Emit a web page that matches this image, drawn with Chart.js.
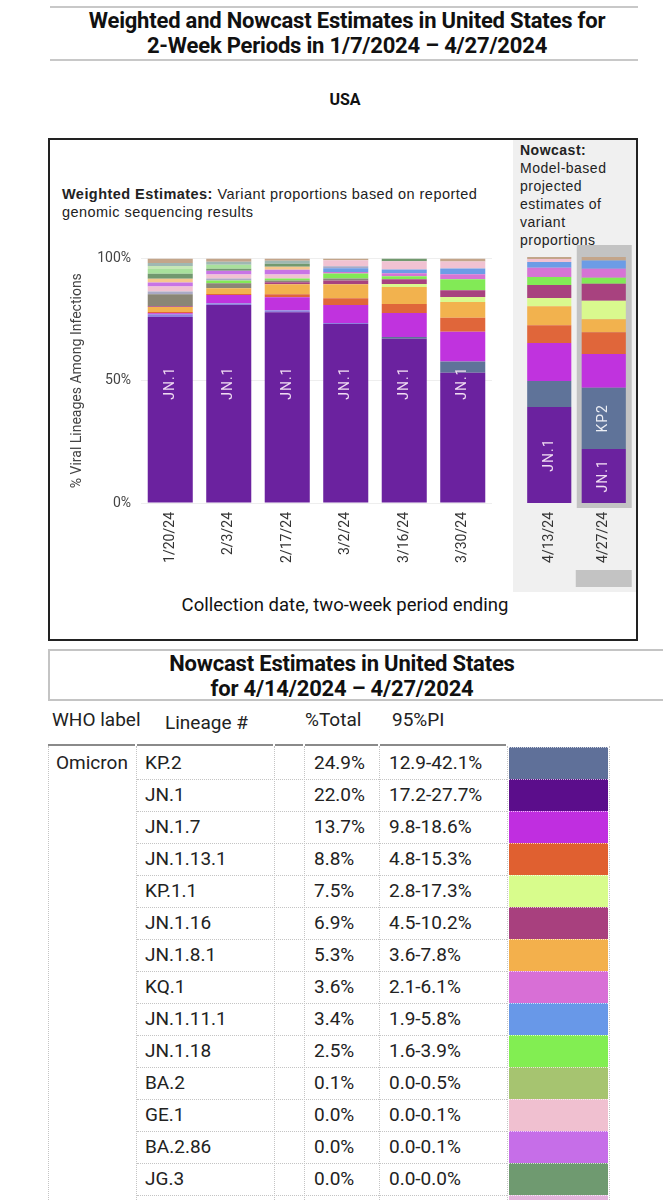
<!DOCTYPE html>
<html>
<head>
<meta charset="utf-8">
<script src="https://cdn.jsdelivr.net/npm/chart.js@4.4.1/dist/chart.umd.min.js"></script>
<style>
  body { margin: 0; background: #fff; }
  #page { position: relative; width: 663px; height: 1200px; overflow: hidden; font-family: Roboto, sans-serif; color: #222; }
  .a { position: absolute; }
  .rule { position: absolute; height: 2px; background: #c8c8c8; }
  .ttl { position: absolute; text-align: center; font-weight: bold; font-size: 22px; line-height: 25px; color: #111; letter-spacing: -0.2px; }
  .note { position: absolute; font-family: "Liberation Sans", Arial, sans-serif; color: #222; white-space: nowrap; }
  .cell { position: absolute; font-size: 19px; line-height: 32px; color: #222; white-space: nowrap; }
  .vdot { position: absolute; width: 0; border-left: 1px dotted #c4c4c4; }
  .hdot { position: absolute; height: 0; border-top: 1px dotted #c4c4c4; }
</style>
</head>
<body>
<div id="page">
  <div class="rule" style="left:50px;top:6px;width:588px"></div>
  <div class="ttl" style="left:20px;top:8px;width:654px">Weighted and Nowcast Estimates in United States for<br>2-Week Periods in 1/7/2024 – 4/27/2024</div>
  <div class="rule" style="left:50px;top:59px;width:588px"></div>
  <div class="a" style="left:0;top:90px;width:690px;text-align:center;font-weight:bold;font-size:16px;color:#111">USA</div>

  <div class="a" style="left:48px;top:138px;width:590px;height:503px;border:2px solid #222;box-sizing:border-box"></div>
  <div class="a" style="left:513px;top:140px;width:123px;height:452px;background:#f0f0f0"></div>
  <div class="note" style="left:520px;top:141px;font-size:14px;line-height:18px;letter-spacing:0.5px"><b>Nowcast:</b><br>Model-based<br>projected<br>estimates of<br>variant<br>proportions</div>
  <div class="note" style="left:62px;top:185px;font-size:14.5px;line-height:18px;letter-spacing:0.45px"><b>Weighted Estimates:</b> Variant proportions based on reported<br>genomic sequencing results</div>

  <canvas id="weighted" class="a" style="left:50px;top:240px" width="455" height="340"></canvas>
  <canvas id="nowcast" class="a" style="left:513px;top:240px" width="124" height="352"></canvas>
  <div class="a" style="left:0;top:594px;width:690px;text-align:center;font-size:18.5px;color:#111">Collection date, two-week period ending</div>

  <div class="a" style="left:48px;top:649px;width:615px;height:52px;border-top:2px solid #c4c4c4;border-bottom:2px solid #c4c4c4;border-left:2px solid #c4c4c4;box-sizing:border-box"></div>
  <div class="ttl" style="left:0;top:651px;width:684px">Nowcast Estimates in United States<br>for 4/14/2024 – 4/27/2024</div>
</div>

<script>
var periods = ["1/20/24", "2/3/24", "2/17/24", "3/2/24", "3/16/24", "3/30/24"];
var nowcastPeriods = ["4/13/24", "4/27/24"];

var lineages = ["JN.1", "JN.1.4", "KP.2", "JN.1.7", "JN.1.13.1", "JN.1.8.1", "KP.1.1", "JN.1.16", "HV.1", "JN.1.18", "KQ.1",
  "JN.1.11.1", "JD.1.1", "GE.1", "BA.2.86", "HK.3", "JG.3", "EG.5", "XBB.1.16", "XBB.1.5", "Other"];
var lineageColors = ["#6b229f", "#8f80dc", "#5f7399", "#c033de", "#e0663a", "#f2b24e", "#d9f98e", "#a8427f", "#8a8676", "#82ea56", "#d674d4",
  "#6c9ce6", "#aaaac6", "#f1c2d2", "#c874e6", "#f6c88e", "#72996f", "#a9e19c", "#c6e7b6", "#9fb8b2", "#c3a58a"];

// % of sequences per lineage, same order as lineages
var jan20 = [76.0, 1.2, 0, 0.4, 0.5, 2.0, 0, 0.3, 4.9, 0, 0, 0, 1.2, 2.0, 1.6, 1.6, 2.0, 2.0, 1.2, 1.2, 1.9];
var feb3  = [80.9, 0.8, 0, 3.3, 0.4, 2.4, 0, 0, 2.0, 1.2, 0, 0, 0.8, 1.6, 1.6, 0, 0.8, 1.6, 0, 1.2, 1.4];
var feb17 = [78.0, 0.8, 0, 5.3, 1.2, 4.1, 0, 0.8, 0.8, 0.8, 0, 0, 0, 1.6, 2.0, 1.2, 1.2, 0, 0, 1.2, 1.0];
var mar2  = [73.2, 0.4, 0, 7.3, 2.8, 5.7, 0, 1.6, 0.8, 2.0, 0.6, 1.6, 0.8, 2.4, 0, 0, 0, 0, 0, 0, 0.8];
var mar16 = [67.1, 0, 0.8, 9.8, 3.7, 6.9, 1.2, 2.0, 0, 1.2, 1.2, 1.6, 0, 3.3, 0, 0, 1.2, 0, 0, 0, 0];
var mar30 = [53.3, 0, 4.5, 12.2, 5.7, 6.5, 2.0, 2.8, 0, 4.5, 2.0, 2.4, 0, 2.8, 0, 0, 0, 0, 0, 0, 1.3];
// nowcast
var apr13 = [39.0, 0, 10.6, 15.4, 7.3, 7.7, 3.3, 5.3, 0, 3.3, 3.7, 2.4, 0, 1.2, 0, 0, 0, 0, 0, 0, 0.8];
var apr27 = [22.0, 0, 24.9, 13.7, 8.8, 5.3, 7.5, 6.9, 0, 2.5, 3.6, 3.4, 0, 0, 0, 0, 0, 0, 0, 0, 1.4];

// nowcast table
var tableLineages = ["KP.2", "JN.1", "JN.1.7", "JN.1.13.1", "KP.1.1", "JN.1.16", "JN.1.8.1", "KQ.1", "JN.1.11.1", "JN.1.18", "BA.2", "GE.1", "BA.2.86", "JG.3"];
var tableTotals = ["24.9%", "22.0%", "13.7%", "8.8%", "7.5%", "6.9%", "5.3%", "3.6%", "3.4%", "2.5%", "0.1%", "0.0%", "0.0%", "0.0%"];
var tablePI = ["12.9-42.1%", "17.2-27.7%", "9.8-18.6%", "4.8-15.3%", "2.8-17.3%", "4.5-10.2%", "3.6-7.8%", "2.1-6.1%", "1.9-5.8%", "1.6-3.9%", "0.0-0.5%", "0.0-0.1%", "0.0-0.1%", "0.0-0.0%"];
var tableColors = ["#5f7099", "#5b0d8b", "#c02ee0", "#e06030", "#d8fc8c", "#a8407e", "#f3b04c", "#d86fd6", "#6898e8", "#82ee52", "#a6c470", "#f0c0d0", "#c66ee8", "#6f9a70", "#e4b4dc"];

Chart.defaults.font.family = "Roboto";

function makeDatasets(cols) {
  return lineages.map(function (name, i) {
    return {
      label: name,
      data: cols.map(function (c) { return c[i]; }),
      backgroundColor: lineageColors[i],
      borderWidth: 0
    };
  });
}

// rotated white labels inside bar segments
function segLabels(items) {
  return {
    id: "segLabels",
    afterDatasetsDraw: function (chart) {
      var ctx = chart.ctx;
      ctx.save();
      ctx.font = "14px Roboto";
      ctx.textAlign = "center";
      ctx.textBaseline = "middle";
      ctx.letterSpacing = "1px";
      items.forEach(function (it) {
        var bar = chart.getDatasetMeta(lineages.indexOf(it.lineage)).data[it.index];
        var cy = it.level != null ? chart.scales.y.getPixelForValue(it.level) : (bar.y + bar.base) / 2;
        ctx.save();
        ctx.translate(bar.x, cy);
        ctx.rotate(-Math.PI / 2);
        ctx.fillStyle = it.color;
        ctx.fillText(it.text, 0, 0);
        ctx.restore();
      });
      ctx.restore();
    }
  };
}

var highlight = {
  id: "highlight",
  beforeDraw: function (chart) {
    var ctx = chart.ctx, a = chart.chartArea;
    var x = chart.scales.x.getPixelForValue(1);
    ctx.save();
    ctx.fillStyle = "#c3c3c3";
    ctx.fillRect(x - 27, a.top - 12, 55, a.bottom - a.top + 17);
    ctx.fillRect(x - 28, a.bottom + 67, 56, 17);
    ctx.restore();
  }
};

var xTicks = { minRotation: 90, maxRotation: 90, autoSkip: false, padding: 9, color: "#333", font: { size: 14 } };

new Chart("weighted", {
  type: "bar",
  data: { labels: periods, datasets: makeDatasets([jan20, feb3, feb17, mar2, mar16, mar30]) },
  options: {
    responsive: false,
    animation: false,
    layout: { padding: { top: 17, right: 13, left: 0, bottom: 0 } },
    datasets: { bar: { barPercentage: 0.77, categoryPercentage: 1 } },
    plugins: { legend: { display: false }, tooltip: { enabled: false } },
    scales: {
      x: {
        stacked: true,
        grid: { display: false, drawTicks: false },
        border: { display: false },
        ticks: xTicks,
        afterFit: function (s) { s.height = 77; }
      },
      y: {
        stacked: true,
        min: 0,
        max: 100,
        ticks: { stepSize: 50, padding: 10, color: "#444", font: { size: 14 }, callback: function (v) { return v + "%"; } },
        grid: { color: "#eeeeee", drawTicks: false },
        border: { display: false },
        title: { display: true, text: "% Viral Lineages Among Infections", color: "#444", font: { size: 14 }, padding: { top: 18.6 } },
        afterFit: function (s) { s.width = 91; }
      }
    }
  },
  plugins: [segLabels(periods.map(function (p, i) {
    return { lineage: "JN.1", index: i, text: "JN.1", level: 49, color: "#f0dcf2" };
  }))]
});

new Chart("nowcast", {
  type: "bar",
  data: { labels: nowcastPeriods, datasets: makeDatasets([apr13, apr27]) },
  options: {
    responsive: false,
    animation: false,
    layout: { padding: { top: 17, right: 6, left: 9, bottom: 0 } },
    datasets: { bar: { barPercentage: 0.81, categoryPercentage: 1 } },
    plugins: { legend: { display: false }, tooltip: { enabled: false } },
    scales: {
      x: {
        stacked: true,
        grid: { display: false, drawTicks: false },
        border: { display: false },
        ticks: xTicks,
        afterFit: function (s) { s.height = 89; }
      },
      y: { stacked: true, min: 0, max: 100, display: false }
    }
  },
  plugins: [highlight, segLabels([
    { lineage: "JN.1", index: 0, text: "JN.1", color: "#f0dcf2" },
    { lineage: "JN.1", index: 1, text: "JN.1", color: "#f0dcf2" },
    { lineage: "KP.2", index: 1, text: "KP2", color: "#eceef4" }
  ])]
});

// table
var page = document.getElementById("page");
function add(cls, style, text) {
  var d = document.createElement("div");
  d.className = cls;
  d.style.cssText = style;
  if (text) d.textContent = text;
  page.appendChild(d);
  return d;
}

var top0 = 747, rowH = 32;
add("cell", "left:52px;top:704px", "WHO label");
add("cell", "left:165px;top:707px", "Lineage #");
add("cell", "left:305px;top:704px", "%Total");
add("cell", "left:392px;top:704px", "95%PI");
[[48, 135], [137, 273], [275, 303], [305, 378], [380, 506]].forEach(function (c) {
  add("a", "left:" + c[0] + "px;top:744px;width:" + (c[1] - c[0]) + "px;height:2px;background:#8a8a8a");
});
add("cell", "left:56px;top:" + top0 + "px", "Omicron");
tableColors.forEach(function (col, i) {
  var y = top0 + i * rowH;
  if (i > 0) add("hdot", "left:137px;top:" + y + "px;width:370px");
  if (i < tableLineages.length) {
    add("cell", "left:145px;top:" + y + "px", tableLineages[i]);
    add("cell", "left:314px;top:" + y + "px", tableTotals[i]);
    add("cell", "left:389px;top:" + y + "px", tablePI[i]);
  }
  add("a", "left:509px;top:" + y + "px;width:99px;height:" + rowH + "px;background:" + col +
    ";border-top:1px dotted rgba(255,255,255,0.7);box-sizing:border-box");
});
[48, 136, 274, 304, 379, 507, 609].forEach(function (x) {
  add("vdot", "left:" + x + "px;top:746px;height:454px");
});
</script>
</body>
</html>
